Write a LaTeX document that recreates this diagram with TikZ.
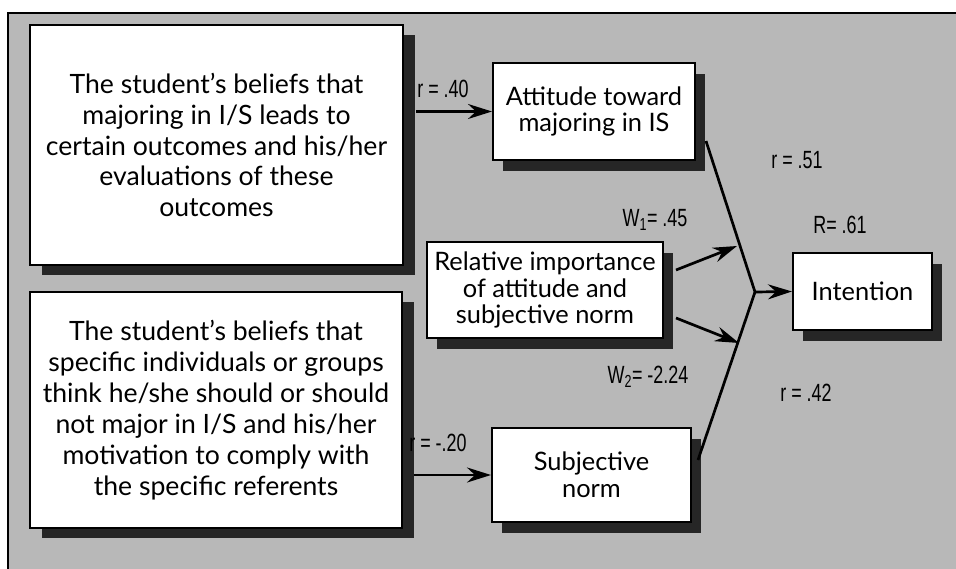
\documentclass[tikz,border=0pt]{standalone}
\usepackage{fontspec}
\setmainfont{Lato}
\newfontfamily\lblfont[FakeStretch=0.72]{Liberation Sans}
\usetikzlibrary{arrows.meta,shadows,calc}
\begin{document}
\begin{tikzpicture}[x=1bp,y=-1bp,
  bg/.style={fill=black!28},
  boxbase/.style={draw=black, line width=2bp, fill=white, align=center, inner sep=0pt},
  bigbox/.style={boxbase, font=\fontsize{26.7}{31}\selectfont,
     drop shadow={shadow xshift=12bp, shadow yshift=-10bp, opacity=1, fill=black!85}},
  smallbox/.style={boxbase, font=\fontsize{25.5}{27}\selectfont,
     drop shadow={shadow xshift=10bp, shadow yshift=-11bp, opacity=1, fill=black!85}},
  lbl/.style={font=\lblfont\fontsize{25}{28}\selectfont, inner sep=1bp},
  conn/.style={line width=2.7bp},
  arr/.style={conn, -{Stealth[length=24bp,width=15bp,inset=8bp]}}
]
\useasboundingbox (0,0) rectangle (956,569);
\fill[bg] (8,13) rectangle (956,569);
\draw[line width=1.5bp] (956,13) -- (8,13) -- (8,569);

\node[bigbox, minimum width=373bp, minimum height=240bp] (b1) at (216.5,145)
  {The student’s beliefs that\\majoring in I/S leads to\\certain outcomes and his/her\\evaluations of these\\outcomes};
\node[bigbox, minimum width=372bp, minimum height=236bp] (b2) at (216,410)
  {The student’s beliefs that\\specific individuals or groups\\think he/she should or should\\not major in I/S and his/her\\motivation to comply with\\the specific referents};
\node[smallbox, minimum width=202bp, minimum height=97bp] (att) at (594,111.5)
  {Attitude toward\\majoring in IS};
\node[smallbox, minimum width=236bp, minimum height=96bp] (rel) at (545,290)
  {Relative importance\\of attitude and\\subjective norm};
\node[smallbox, minimum width=139bp, minimum height=77bp] (int) at (862.5,291.5)
  {Intention};
\node[smallbox, minimum width=199bp, minimum height=94bp] (sub) at (591.5,475)
  {Subjective\\norm};

\coordinate (J) at (755,292);

\draw[arr] ([xshift=12bp]b1.east |- att.west) -- (att.west);
\draw[arr] ([xshift=11bp]b2.east |- sub.west) -- (sub.west);
\draw[conn] ($(att.south east)+(10,-20)$) -- (J);
\draw[conn] ($(sub.east)+(6,-15)$) -- (J);
\draw[arr] (J) -- (int.west);
\draw[arr] ($(rel.east)+(12,-20)$) -- (737,246);
\draw[arr] ($(rel.east)+(12,28)$) -- (739,343);

\node[lbl] (l1) at (443,89) {r = .40};
\node[lbl] (l2) at (438,443) {r = -.20};
\node[lbl] (l3) at (797,160) {r = .51};
\node[lbl] (l4) at (655,220) {W\textsubscript{1}= .45};
\node[lbl] (l5) at (840,225) {R= .61};
\node[lbl] (l6) at (648,377) {W\textsubscript{2}= -2.24};
\node[lbl] (l7) at (806,393) {r = .42};
\end{tikzpicture}
\end{document}
